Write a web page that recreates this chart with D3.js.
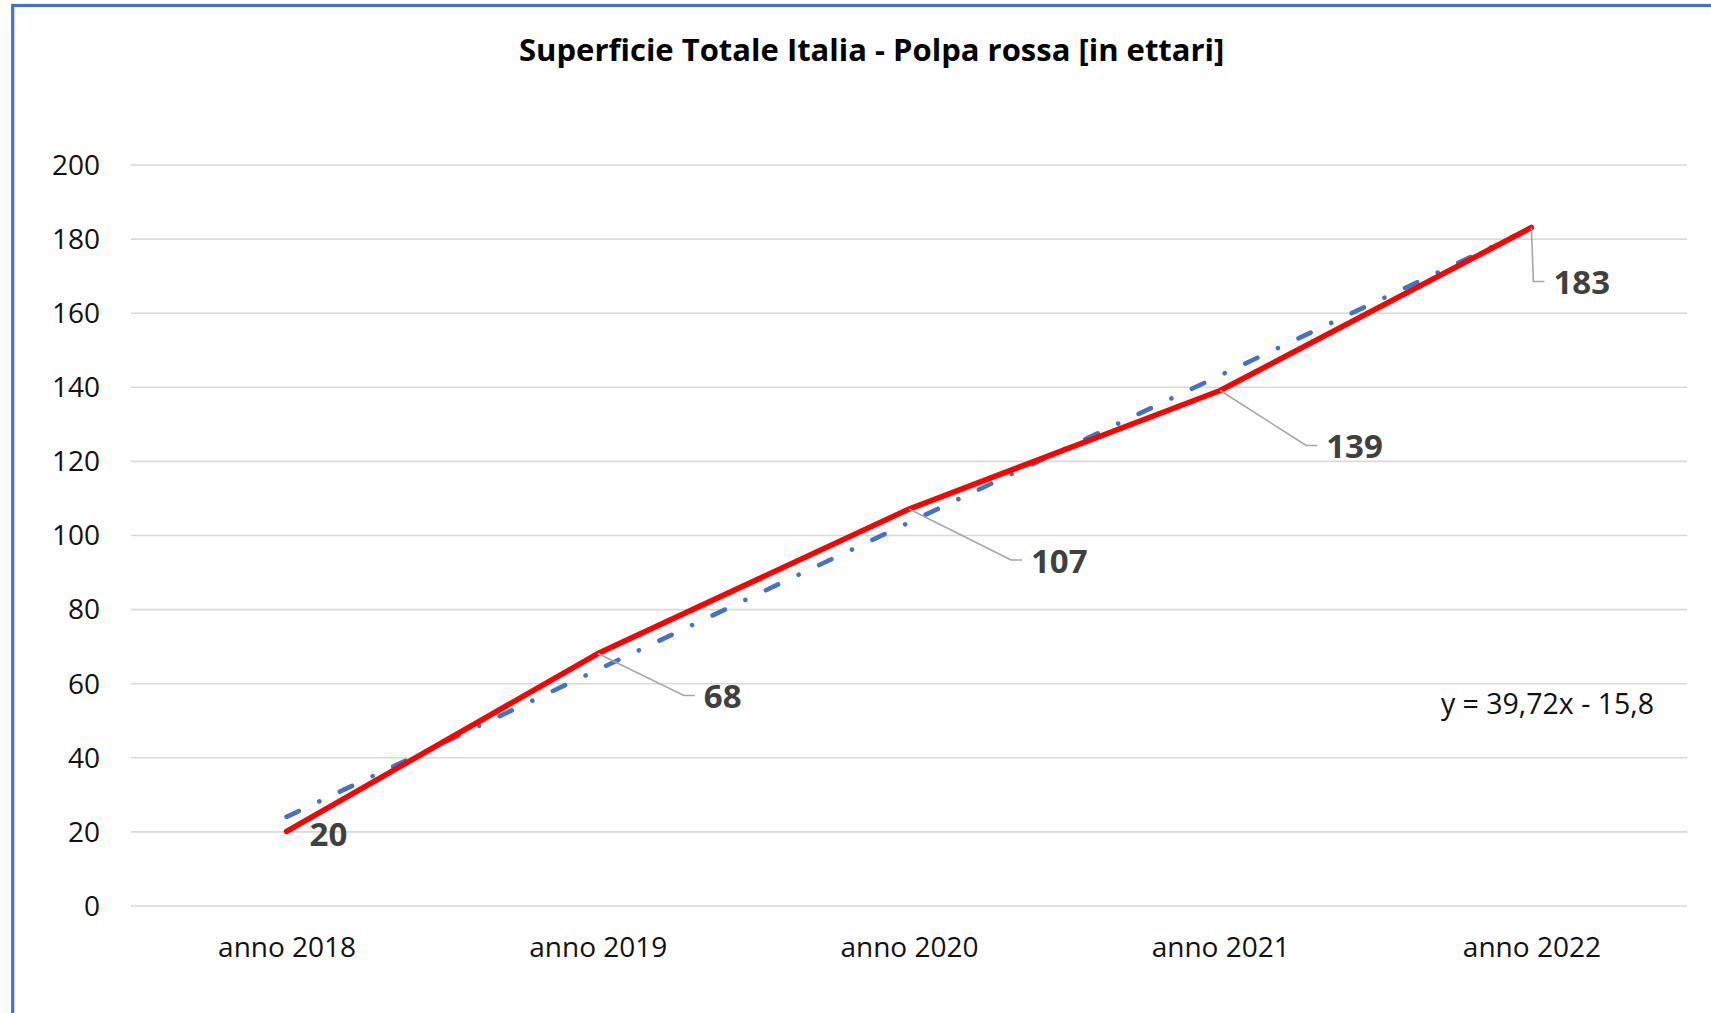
<!DOCTYPE html>
<html>
<head>
<meta charset="utf-8">
<script src="https://cdn.jsdelivr.net/npm/d3@7"></script>
<style>
  html, body { margin: 0; padding: 0; background: #fff; }
  svg { display: block; font-family: "Open Sans", sans-serif; }
</style>
</head>
<body>
<div id="chart"></div>
<script>
// --- data ---
const years = ['anno 2018', 'anno 2019', 'anno 2020', 'anno 2021', 'anno 2022'];
const ettari = [20, 68, 107, 139, 183];
const yTicks = [0, 20, 40, 60, 80, 100, 120, 140, 160, 180, 200];
// linear trendline as printed on the chart: y = 39,72x - 15,8
const trendSlope = 39.72;
const trendIntercept = -15.8;
const titleText = 'Superficie Totale Italia - Polpa rossa [in ettari]';

// leader-line elbows for the data labels (pixel offsets from the point, null = no leader)
const labelElbows = [null, [86, 42], [102, 51], [86, 55], [2, 54]];

const width = 1711, height = 1013;
const plot = {left: 131, right: 1687, top: 164.5, bottom: 905.5};

const svg = d3.select('#chart').append('svg')
    .attr('width', width)
    .attr('height', height);

// chart frame (only left and top edges show)
svg.append('rect')
    .attr('x', 12.7).attr('y', 5.5)
    .attr('width', width).attr('height', height)
    .attr('fill', 'none')
    .attr('stroke', '#4472C4')
    .attr('stroke-width', 3.2);

const x = d3.scalePoint()
    .domain(years)
    .range([plot.left, plot.right])
    .padding(0.5);

const y = d3.scaleLinear()
    .domain([0, 200])
    .range([plot.bottom, plot.top]);

// gridlines + y labels
const yAxis = d3.axisLeft(y)
    .tickValues(yTicks)
    .tickSize(-(plot.right - plot.left))
    .tickPadding(31);

const gy = svg.append('g')
    .attr('transform', `translate(${plot.left},0)`)
    .call(yAxis);
gy.select('.domain').remove();
gy.selectAll('.tick line').attr('stroke', '#d9d9d9').attr('stroke-width', 1.6);
gy.selectAll('.tick text')
    .attr('font-size', 28)
    .attr('fill', '#111')
    .attr('dy', '0.35em')
    .style('font-family', '"Open Sans", sans-serif');

// x labels
const xAxis = d3.axisBottom(x).tickSize(0).tickPadding(0);
const gx = svg.append('g')
    .attr('transform', `translate(0,${plot.bottom})`)
    .call(xAxis);
gx.select('.domain').remove();
gx.selectAll('.tick text')
    .attr('y', 51)
    .attr('dy', 0)
    .attr('font-size', 28)
    .attr('fill', '#111')
    .style('font-family', '"Open Sans", sans-serif');

// title
svg.append('text')
    .attr('x', 871.7)
    .attr('y', 61)
    .attr('text-anchor', 'middle')
    .attr('font-size', 31)
    .attr('font-weight', 'bold')
    .attr('fill', '#000')
    .text(titleText);

// trendline from first to last category
const idx = d3.range(years.length);
const trendPts = [0, years.length - 1].map(i => [x(years[i]), y(trendSlope * (i + 1) + trendIntercept)]);

svg.append('path')
    .attr('d', d3.line()(trendPts))
    .attr('fill', 'none')
    .attr('stroke', '#4472C4')
    .attr('stroke-width', 4.6)
    .attr('stroke-linecap', 'round')
    .attr('stroke-dasharray', '13.5,22.7,0.01,22.7');

// data line
const line = d3.line()
    .x((d, i) => x(years[i]))
    .y(d => y(d));

svg.append('path')
    .datum(ettari)
    .attr('d', line)
    .attr('fill', 'none')
    .attr('stroke', '#ff0000')
    .attr('stroke-width', 5.5)
    .attr('stroke-linejoin', 'round')
    .attr('stroke-linecap', 'round');

// data labels with leader lines
const labels = svg.append('g');
idx.forEach(i => {
    const px = x(years[i]), py = y(ettari[i]);
    const elbow = labelElbows[i];
    let lx, ly;
    if (elbow) {
        const ex = px + elbow[0], ey = py + elbow[1];
        labels.append('path')
            .attr('d', `M${px},${py}L${ex},${ey}H${ex + 11}`)
            .attr('fill', 'none')
            .attr('stroke', '#a6a6a6')
            .attr('stroke-width', 1.6);
        lx = ex + 20;
        ly = ey + 1;
    } else {
        lx = px + 23;
        ly = py + 3;
    }
    labels.append('text')
        .attr('x', lx)
        .attr('y', ly)
        .attr('dy', '0.35em')
        .attr('font-size', 33)
        .attr('font-weight', 'bold')
        .attr('fill', '#404040')
        .text(ettari[i]);
});

// trendline equation
const fmt = v => String(v).replace('.', ',');
svg.append('text')
    .attr('x', 1654)
    .attr('y', 704)
    .attr('dy', '0.35em')
    .attr('text-anchor', 'end')
    .attr('font-size', 28.5)
    .attr('fill', '#111')
    .text(`y = ${fmt(trendSlope)}x - ${fmt(-trendIntercept)}`);
</script>
</body>
</html>
